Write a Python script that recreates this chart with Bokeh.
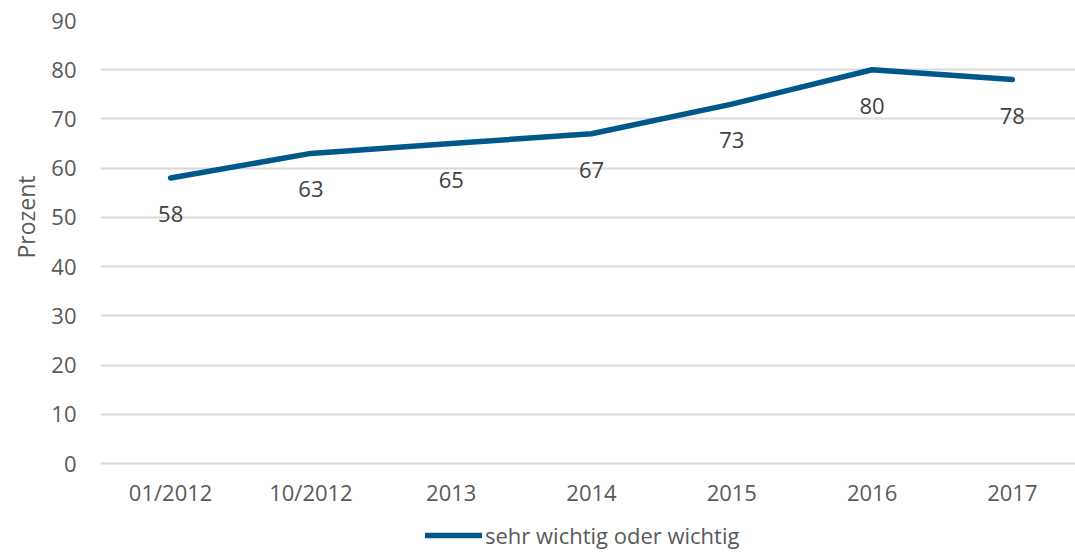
from bokeh.plotting import figure
from bokeh.models import ColumnDataSource, FixedTicker, Legend, LegendItem, Title
from bokeh.core.properties import value
from bokeh.embed import file_html
from bokeh.resources import INLINE

# Survey share answering "sehr wichtig oder wichtig" (percent)
categories = ["01/2012", "10/2012", "2013", "2014", "2015", "2016", "2017"]
shares = [58, 63, 65, 67, 73, 80, 78]
y_ticks = [0, 10, 20, 30, 40, 50, 60, 70, 80, 90]
series_name = "sehr wichtig oder wichtig"
y_title = "Prozent"

FONT = "Open Sans"
LINE_COLOR = "#00578A"
TICK_COLOR = "#595959"
LABEL_COLOR = "#404040"

W, H = 1075, 553
TOP, LEFT = 20, 98
ZERO_PX = 463          # canvas row of the value 0
Y_MAX = 90
px_per_unit = (ZERO_PX - TOP) / Y_MAX
y_start = -(H - ZERO_PX) / px_per_unit   # room under the axis for labels and legend

xs = list(range(len(categories)))
src = ColumnDataSource(dict(x=xs, y=shares, label=[str(v) for v in shares]))

p = figure(
    width=W, height=H,
    x_range=(-0.5, 6.45), y_range=(y_start, Y_MAX),
    output_backend="svg", toolbar_location=None,
    min_border_left=LEFT, min_border_right=0,
    min_border_top=TOP, min_border_bottom=0,
)
p.outline_line_color = None
p.background_fill_color = "white"
p.border_fill_color = "white"

# grid
p.xgrid.grid_line_color = None
p.ygrid.grid_line_color = "#D9D9D9"
p.ygrid.grid_line_width = 2

# x axis, pinned to the value 0
p.xaxis.fixed_location = 0
p.xaxis.ticker = FixedTicker(ticks=xs)
p.xaxis.major_label_overrides = {i: c for i, c in enumerate(categories)}
p.xaxis.axis_line_color = None
p.xaxis.major_tick_line_color = None
p.xaxis.minor_tick_line_color = None
p.xaxis.major_label_standoff = 7
p.xaxis.major_label_text_font = FONT
p.xaxis.major_label_text_font_size = "22px"
p.xaxis.major_label_text_color = TICK_COLOR

# y axis
p.yaxis.ticker = FixedTicker(ticks=y_ticks)
p.yaxis.axis_line_color = None
p.yaxis.major_tick_line_color = None
p.yaxis.minor_tick_line_color = None
p.yaxis.major_label_standoff = 18
p.yaxis.major_label_text_font = FONT
p.yaxis.major_label_text_font_size = "22px"
p.yaxis.major_label_text_color = TICK_COLOR

# y axis title, in the left panel outside the tick labels
p.add_layout(Title(
    text=y_title, align="left", offset=295, standoff=14,
    text_font=FONT, text_font_size="23px", text_font_style="normal",
    text_color=TICK_COLOR,
), "left")

line = p.line("x", "y", source=src, line_color=LINE_COLOR, line_width=5.5,
              line_cap="round", line_join="round")

p.text("x", "y", text="label", source=src, y_offset=36,
       text_align="center", text_baseline="middle",
       text_font=value(FONT), text_font_size="22px", text_color=LABEL_COLOR)

legend = Legend(
    items=[LegendItem(label=series_name, renderers=[line])],
    location=(325, 3), orientation="horizontal",
    glyph_width=57, glyph_height=20, label_standoff=3,
    padding=0, margin=0, spacing=0,
    label_text_font=FONT, label_text_font_size="22px",
    label_text_color=TICK_COLOR,
    border_line_color=None, background_fill_alpha=0,
)
p.add_layout(legend)

open("out.html", "w").write(file_html(p, INLINE))
